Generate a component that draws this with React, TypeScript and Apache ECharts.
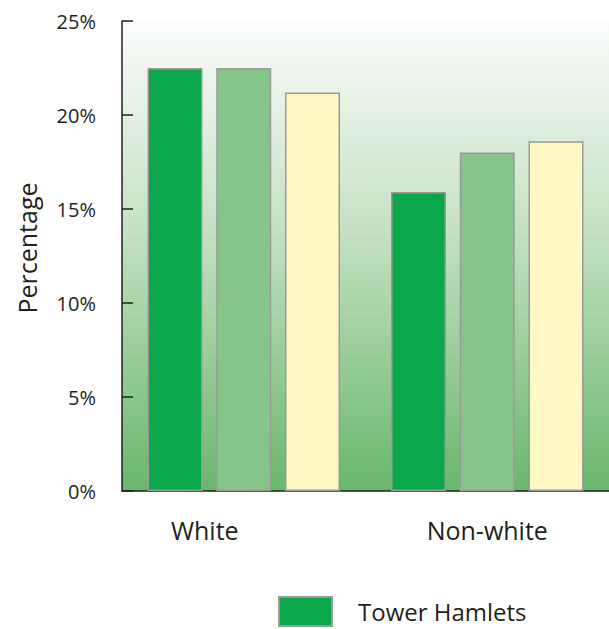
import React, { useEffect, useRef } from "react";
import * as echarts from "echarts";

const categories = ["White", "Non-white"];
const seriesNames = ["Tower Hamlets", "London", "England"];
const towerHamlets = [22.5, 15.9];
const london = [22.5, 18.0];
const england = [21.2, 18.6];
const yTicks = { min: 0, max: 25, interval: 5 };

const FONT = "'Open Sans', 'Noto Sans', sans-serif";
const TEXT = "#231f20";

export default function App() {
  const ref = useRef<HTMLDivElement>(null);

  useEffect(() => {
    document.body.style.margin = "0";
    if (!ref.current) return;
    const chart = echarts.init(ref.current, undefined, { renderer: "svg" });
    const barBase = {
      type: "bar" as const,
      barWidth: 55,
      barGap: "25%",
    };
    const colors = ["#0aa84a", "#86c489", "#fff8c2"];
    const values = [towerHamlets, london, england];
    chart.setOption({
      animation: false,
      grid: {
        left: 122,
        right: 0,
        top: 21,
        bottom: 138,
        show: true,
        borderWidth: 0,
        backgroundColor: new echarts.graphic.LinearGradient(0, 0, 0, 1, [
          { offset: 0, color: "#fbfcfb" },
          { offset: 0.45, color: "#c4e1c3" },
          { offset: 1, color: "#69b76c" },
        ]),
      },
      legend: {
        data: ["Tower Hamlets"],
        left: 278,
        top: 596,
        padding: 0,
        icon: "rect",
        itemWidth: 53,
        itemHeight: 29,
        textStyle: {
          fontFamily: FONT,
          fontSize: 24,
          color: TEXT,
          padding: [0, 0, 0, 21],
        },
      },
      xAxis: {
        type: "category",
        data: categories,
        axisLine: { lineStyle: { color: TEXT, width: 1.5 } },
        axisTick: { show: false },
        axisLabel: {
          margin: 26,
          fontFamily: FONT,
          fontSize: 25,
          color: TEXT,
          formatter: (v: string) => (v === "White" ? `{w|${v}}` : `{n|${v}}`),
          rich: {
            w: { fontFamily: FONT, fontSize: 25, color: TEXT, padding: [0, 78, 0, 0] },
            n: { fontFamily: FONT, fontSize: 25, color: TEXT },
          },
        },
      },
      yAxis: {
        type: "value",
        min: yTicks.min,
        max: yTicks.max,
        interval: yTicks.interval,
        name: "Percentage",
        nameLocation: "middle",
        nameRotate: 90,
        nameGap: 83,
        nameTextStyle: { fontFamily: FONT, fontSize: 25, color: TEXT, padding: [0, 0, 0, 16] },
        axisLine: { show: true, lineStyle: { color: TEXT, width: 1.5 } },
        axisTick: { show: true, inside: true, length: 11, lineStyle: { color: TEXT, width: 1.5 } },
        splitLine: { show: false },
        axisLabel: {
          margin: 26,
          fontFamily: FONT,
          fontSize: 20,
          color: TEXT,
          formatter: "{value}%",
        },
      },
      series: seriesNames.map((name, i) => ({
        ...barBase,
        name,
        data: values[i],
        itemStyle: { color: colors[i], borderColor: "#9a9a9a", borderWidth: 1.5 },
      })),
    });
    return () => chart.dispose();
  }, []);

  return <div ref={ref} style={{ width: 609, height: 629 }} />;
}
